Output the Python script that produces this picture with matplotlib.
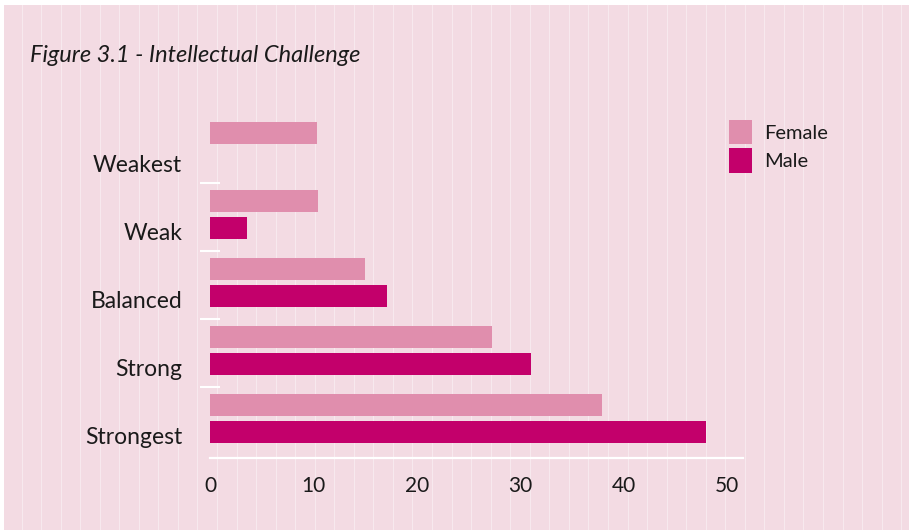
import numpy as np
import matplotlib
matplotlib.use("Agg")
import matplotlib.pyplot as plt
from matplotlib.lines import Line2D
from matplotlib.patches import Rectangle

# data
categories = ["Weakest", "Weak", "Balanced", "Strong", "Strongest"]
female = [10.3, 10.4, 15.0, 27.3, 37.9]
male = [0.0, 3.6, 17.1, 31.0, 48.0]
xticks = [0, 10, 20, 30, 40, 50]

bg = "#F3DBE3"
c_female = "#E08EAD"
c_male = "#C3006B"
txt = "#1A1A1A"

plt.rcParams["font.family"] = ["Lato", "DejaVu Sans"]

W, H = 909, 530
fig = plt.figure(figsize=(W / 100, H / 100), dpi=100, facecolor="white")

# pink panel with thin pale vertical stripes
fig.add_artist(Rectangle((4 / W, 0), 1 - 4 / W, 1 - 5 / H, transform=fig.transFigure,
                         facecolor=bg, edgecolor="none", zorder=-3))
for xs in np.arange(21.5, W, 19.55):
    fig.add_artist(Line2D([xs / W, xs / W], [0, 1 - 5 / H], transform=fig.transFigure,
                          color="white", alpha=0.4, lw=0.8, zorder=-2))

ax = fig.add_axes([210 / W, (H - 458) / H, 532.7 / W, 359.1 / H])
ax.set_facecolor("none")

y = np.arange(len(categories))
off = 13.5 / 68
h = 22 / 68
ax.barh(y - off, female, height=h, color=c_female, label="Female")
ax.barh(y + off, male, height=h, color=c_male, label="Male")

ax.set_xlim(0, 51.5)
ax.set_ylim(4.58, -0.7)

for s in ["top", "right", "left"]:
    ax.spines[s].set_visible(False)
ax.spines["bottom"].set_color("white")
ax.spines["bottom"].set_linewidth(1.6)

ax.set_xticks(xticks)
ax.set_xticklabels([str(v) for v in xticks])
ax.tick_params(axis="x", length=0, pad=13, labelsize=15, labelcolor=txt)

ax.set_yticks(y + 0.243)
ax.set_yticklabels(categories)
ax.tick_params(axis="y", which="major", length=0, pad=20, labelsize=16.5, labelcolor=txt)

# short white separators between groups
ax.set_yticks(y[:-1] + 0.53, minor=True)
ax.tick_params(axis="y", which="minor", direction="inout", length=13.7, width=1.5,
               color="white")

fig.text(30 / W, 1 - 61.7 / H, "Figure 3.1 - Intellectual Challenge", style="italic",
         fontsize=17, color=txt, va="baseline", ha="left")

fig.legend(loc="upper left", bbox_to_anchor=(729 / W, 1 - 120 / H), frameon=False,
           fontsize=14.5, borderpad=0, borderaxespad=0, handlelength=1.16,
           handleheight=1.46, labelspacing=0.22, handletextpad=0.6, labelcolor=txt)

fig.savefig("out.png", dpi=100, facecolor="white")
